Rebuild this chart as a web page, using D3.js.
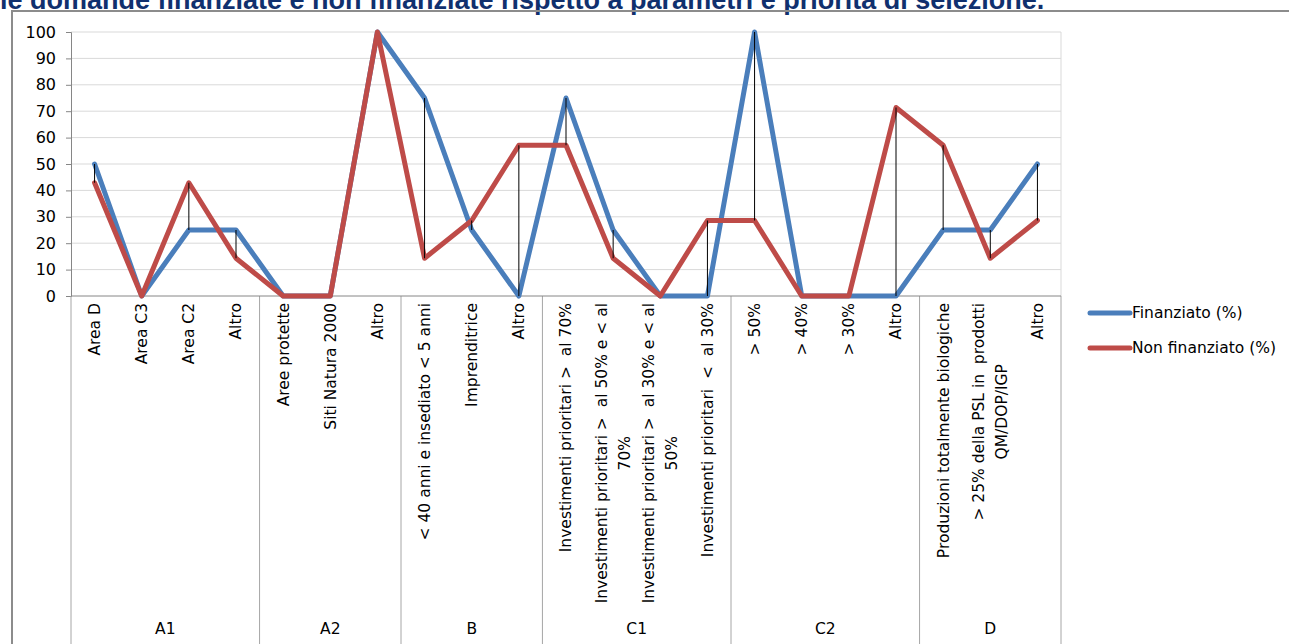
<!DOCTYPE html>
<html lang="it">
<head>
<meta charset="UTF-8">
<title>Domande finanziate e non finanziate</title>
<script src="https://d3js.org/d3.v7.min.js"></script>
<style>
  body { margin: 0; background: #fff; }
  svg { display: block; }
  svg text { white-space: pre; }
</style>
</head>
<body>
<svg id="chart" width="1289" height="644"></svg>
<script>
// Categories (each label split into the lines shown in the chart)
var categories = [
  ["Area D"], ["Area C3"], ["Area C2"], ["Altro"],
  ["Aree protette"], ["Siti Natura 2000"], ["Altro"],
  ["< 40 anni e insediato < 5 anni"], ["Imprenditrice"], ["Altro"],
  ["Investimenti prioritari >  al 70%"],
  ["Investimenti prioritari >  al 50% e < al", "70%"],
  ["Investimenti prioritari >  al 30% e < al", "50%"],
  ["Investimenti prioritari  <  al 30%"],
  ["> 50%"], ["> 40%"], ["> 30%"], ["Altro"],
  ["Produzioni totalmente biologiche"],
  ["> 25% della PSL in  prodotti", "QM/DOP/IGP"],
  ["Altro"]
];
var groups = ["A1", "A2", "B", "C1", "C2", "D"];
var groupSizes = [4, 3, 3, 4, 4, 3];

var finanziato    = [50, 0, 25, 25, 0, 0, 100, 75, 25, 0, 75, 25, 0, 0, 100, 0, 0, 0, 25, 25, 50];
var nonFinanziato = [42.9, 0, 42.9, 14.3, 0, 0, 100, 14.3, 28.6, 57.1, 57.1, 14.3, 0, 28.6, 28.6, 0, 0, 71.4, 57.1, 14.3, 28.6];

var seriesNames = ["Finanziato (%)", "Non finanziato (%)"];
var yTicks = [0, 10, 20, 30, 40, 50, 60, 70, 80, 90, 100];

var svg = d3.select("#chart");
var font = "'DejaVu Sans', Verdana, sans-serif";
var fontSize = 15.5;

var plotLeft = 71, plotRight = 1061, plotTop = 32, plotBottom = 296;

var x = d3.scaleBand()
  .domain(d3.range(categories.length))
  .range([plotLeft, plotRight])
  .padding(0);
var cx = function(i) { return x(i) + x.bandwidth() / 2; };

var y = d3.scaleLinear().domain([0, 100]).range([plotBottom, plotTop]);

// title (cut off by the top of the page)
svg.append("text")
  .attr("x", 0)
  .attr("y", 9)
  .attr("font-family", "'Liberation Sans', Arial, sans-serif")
  .attr("font-weight", "bold")
  .attr("font-size", 27)
  .attr("fill", "#10306e")
  .text("le domande finanziate e non finanziate rispetto a parametri e priorità di selezione.");

// chart area border
svg.append("path")
  .attr("d", "M12,644V11H1289")
  .attr("fill", "none")
  .attr("stroke", "#8c8c8c")
  .attr("stroke-width", 2);

// gridlines
svg.append("g")
  .selectAll("line")
  .data(yTicks.filter(function(d) { return d > 0; }))
  .enter().append("line")
  .attr("x1", plotLeft).attr("x2", plotRight)
  .attr("y1", function(d) { return y(d); })
  .attr("y2", function(d) { return y(d); })
  .attr("stroke", "#d9d9d9")
  .attr("stroke-width", 1);

// plot right border
svg.append("line")
  .attr("x1", plotRight).attr("x2", plotRight)
  .attr("y1", plotTop).attr("y2", plotBottom)
  .attr("stroke", "#d9d9d9");

// y axis
var yAxis = svg.append("g")
  .attr("transform", "translate(" + plotLeft + ",0)")
  .call(d3.axisLeft(y).tickValues(yTicks).tickSize(5).tickPadding(10));
yAxis.select(".domain").attr("stroke", "#868686");
yAxis.selectAll(".tick line").attr("stroke", "#868686");
yAxis.selectAll("text")
  .attr("font-family", font)
  .attr("font-size", 16)
  .attr("fill", "#000");

// group separators on the category axis
var bounds = [0];
groupSizes.forEach(function(n, i) { bounds.push(bounds[i] + n); });
var bx = function(b) { return b < categories.length ? x(b) : plotRight; };
svg.append("g")
  .selectAll("line")
  .data(bounds)
  .enter().append("line")
  .attr("x1", bx)
  .attr("x2", bx)
  .attr("y1", plotBottom).attr("y2", 644)
  .attr("stroke", "#a6a6a6");

// x axis line
svg.append("line")
  .attr("x1", plotLeft).attr("x2", plotRight)
  .attr("y1", plotBottom).attr("y2", plotBottom)
  .attr("stroke", "#868686");

// category labels, rotated
var lineH = 23;
var catLabels = svg.append("g")
  .selectAll("text")
  .data(categories)
  .enter().append("text")
  .attr("font-family", font)
  .attr("font-size", fontSize)
  .attr("fill", "#000")
  .attr("transform", function(d, i) {
    return "translate(" + cx(i) + "," + (plotBottom + 7) + ") rotate(-90)";
  });

catLabels.each(function(lines) {
  var t = d3.select(this);
  var off = -(lines.length - 1) * lineH / 2;
  if (lines.length === 1) {
    t.attr("text-anchor", "end").attr("dy", "0.35em").text(lines[0]);
    return;
  }
  // first line sets the width, the rest are centred under it
  var first = t.append("tspan").attr("x", 0).attr("y", off).attr("dy", "0.35em")
    .attr("text-anchor", "end").text(lines[0]);
  var w = first.node().getComputedTextLength();
  lines.slice(1).forEach(function(l, k) {
    t.append("tspan")
      .attr("x", -w / 2)
      .attr("y", off + (k + 1) * lineH)
      .attr("dy", "0.35em")
      .attr("text-anchor", "middle")
      .text(l);
  });
});

// group labels
svg.append("g")
  .selectAll("text")
  .data(groups)
  .enter().append("text")
  .attr("x", function(d, i) { return (bx(bounds[i]) + bx(bounds[i + 1])) / 2; })
  .attr("y", 634)
  .attr("text-anchor", "middle")
  .attr("font-family", font)
  .attr("font-size", fontSize)
  .attr("fill", "#000")
  .text(function(d) { return d; });

// series lines
var line = d3.line()
  .x(function(d, i) { return cx(i); })
  .y(function(d) { return y(d); });

var colors = ["#4a7ebb", "#be4b48"];

svg.append("path")
  .datum(finanziato)
  .attr("d", line)
  .attr("fill", "none")
  .attr("stroke", colors[0])
  .attr("stroke-width", 5)
  .attr("stroke-linejoin", "round")
  .attr("stroke-linecap", "round");

svg.append("path")
  .datum(nonFinanziato)
  .attr("d", line)
  .attr("fill", "none")
  .attr("stroke", colors[1])
  .attr("stroke-width", 5)
  .attr("stroke-linejoin", "round")
  .attr("stroke-linecap", "round");

// high-low lines
svg.append("g")
  .selectAll("line")
  .data(d3.range(categories.length).filter(function(i) {
    return finanziato[i] !== nonFinanziato[i];
  }))
  .enter().append("line")
  .attr("x1", function(i) { return cx(i); })
  .attr("x2", function(i) { return cx(i); })
  .attr("y1", function(i) { return y(finanziato[i]); })
  .attr("y2", function(i) { return y(nonFinanziato[i]); })
  .attr("stroke", "#000")
  .attr("stroke-width", 1);

// legend
var legend = svg.append("g")
  .selectAll("g")
  .data(seriesNames)
  .enter().append("g")
  .attr("transform", function(d, i) { return "translate(1090," + (313 + i * 35) + ")"; });

legend.append("line")
  .attr("x1", 0).attr("x2", 40)
  .attr("stroke", function(d, i) { return colors[i]; })
  .attr("stroke-width", 5)
  .attr("stroke-linecap", "round");

legend.append("text")
  .attr("x", 42)
  .attr("dy", "0.35em")
  .attr("font-family", font)
  .attr("font-size", fontSize)
  .attr("fill", "#000")
  .text(function(d) { return d; });
</script>
</body>
</html>
